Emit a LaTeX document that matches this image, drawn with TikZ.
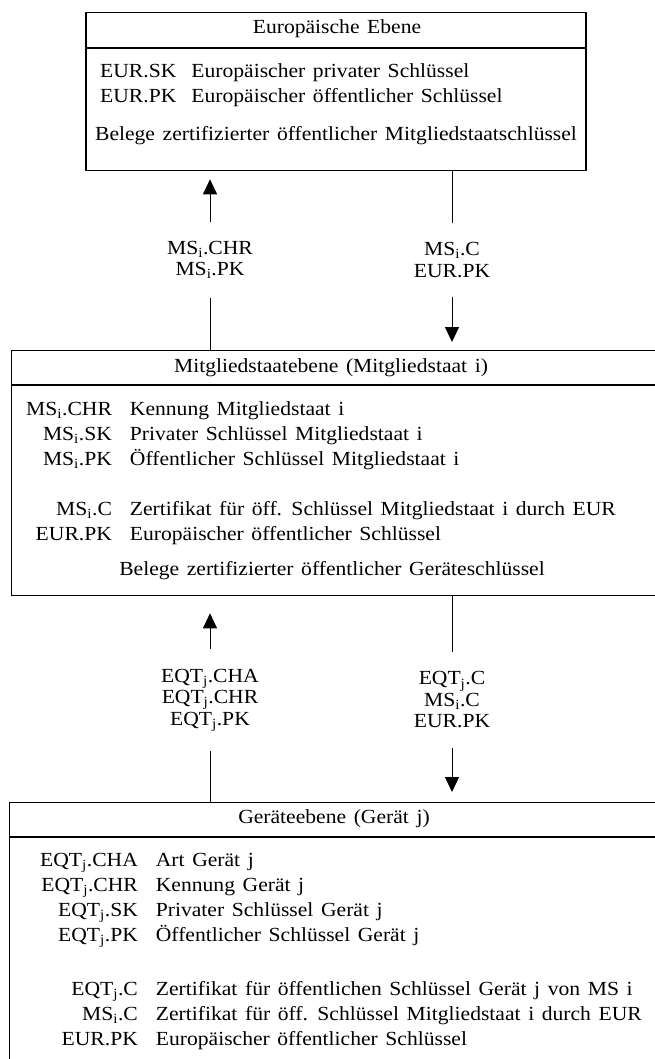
\documentclass[tikz,border=0pt]{standalone}
\usepackage{fontspec}
\setmainfont{Liberation Serif}[FakeStretch=1.08]
\usetikzlibrary{arrows.meta,positioning}
\newcommand\diafont{\fontsize{20}{25}\selectfont\spaceskip=.38em plus .1em\relax}
\newcommand\flowfont{\fontsize{20}{21.5}\selectfont}
\newcommand\sub[1]{\textsubscript{#1}}
\tikzset{
  box/.style={draw, line width=1.3pt, inner sep=0pt},
  keys/.style={inner sep=0pt, anchor=north west},
  flow/.style={align=center, inner xsep=2pt, inner ysep=19pt, font=\flowfont},
  arr/.style={line width=1pt, -{Triangle[length=15pt,width=14pt]}, shorten >=8pt},
  link/.style={line width=1pt}
}
\begin{document}
\begin{tikzpicture}[x=1pt, y=-1pt, font=\diafont]
  \useasboundingbox (0,0) rectangle (654,1059);
  % European level
  \node[box, minimum width=500pt, minimum height=158pt, anchor=north] (eur) at (336,12) {};
  \draw[box] ([yshift=-36pt]eur.north west) -- ([yshift=-36pt]eur.north east);
  \node (eurtitle) at (337,29) {Europäische Ebene};
  \node[keys] (eurkeys) at (100,60) {%
    \begin{tabular}{@{}l@{\hspace{15pt}}l@{}}
      EUR.SK & Europäischer privater Schlüssel\\
      EUR.PK & Europäischer öffentlicher Schlüssel
    \end{tabular}};
  \node (eurproof) at (336,136) {Belege zertifizierter öffentlicher Mitgliedstaatschlüssel};

  % member state level
  \node[box, minimum width=660pt, minimum height=245pt, anchor=north west] (ms) at (11,350) {};
  \draw[box] ([yshift=-35pt]ms.north west) -- ([yshift=-35pt]ms.north east);
  \node (mstitle) at (331,368) {Mitgliedstaatebene (Mitgliedstaat i)};
  \node[keys] (mskeys) at (26,398) {%
    \begin{tabular}{@{}r@{\hspace{18pt}}l@{}}
      MS\sub{i}.CHR & Kennung Mitgliedstaat i\\
      MS\sub{i}.SK & Privater Schlüssel Mitgliedstaat i\\
      MS\sub{i}.PK & Öffentlicher Schlüssel Mitgliedstaat i\\[25pt]
      MS\sub{i}.C & Zertifikat für öff. Schlüssel Mitgliedstaat i durch EUR\\
      EUR.PK & Europäischer öffentlicher Schlüssel
    \end{tabular}};
  \node (msproof) at (332,571) {Belege zertifizierter öffentlicher Geräteschlüssel};

  % equipment level
  \node[box, minimum width=660pt, minimum height=300pt, anchor=north west] (eqt) at (9,802) {};
  \draw[box] ([yshift=-35pt]eqt.north west) -- ([yshift=-35pt]eqt.north east);
  \node (eqttitle) at (334,819) {Geräteebene (Gerät j)};
  \node[keys] (eqtkeys) at (40,849) {%
    \begin{tabular}{@{}r@{\hspace{18pt}}l@{}}
      EQT\sub{j}.CHA & Art Gerät j\\
      EQT\sub{j}.CHR & Kennung Gerät j\\
      EQT\sub{j}.SK & Privater Schlüssel Gerät j\\
      EQT\sub{j}.PK & Öffentlicher Schlüssel Gerät j\\[29pt]
      EQT\sub{j}.C & Zertifikat für öffentlichen Schlüssel Gerät j von MS i\\
      MS\sub{i}.C & Zertifikat für öff. Schlüssel Mitgliedstaat i durch EUR\\
      EUR.PK & Europäischer öffentlicher Schlüssel
    \end{tabular}};

  % exchanges
  \node[flow] (msup) at (210,260) {MS\sub{i}.CHR\\MS\sub{i}.PK};
  \node[flow] (msdown) at (452,260) {MS\sub{i}.C\\EUR.PK};
  \draw[arr] (msup) -- (msup |- eur.south);
  \draw[link] (msup) -- (msup |- ms.north);
  \draw[link] (msdown |- eur.south) -- (msdown);
  \draw[arr] (msdown) -- (msdown |- ms.north);

  \node[flow, inner ysep=20pt] (equp) at (210,700) {EQT\sub{j}.CHA\\EQT\sub{j}.CHR\\EQT\sub{j}.PK};
  \node[flow, inner ysep=20pt] (eqdown) at (452,700) {EQT\sub{j}.C\\MS\sub{i}.C\\EUR.PK};
  \draw[arr, shorten >=17pt] (equp) -- (equp |- ms.south);
  \draw[link] (equp) -- (equp |- eqt.north);
  \draw[link] (eqdown |- ms.south) -- (eqdown);
  \draw[arr, shorten >=10pt] (eqdown) -- (eqdown |- eqt.north);
\end{tikzpicture}
\end{document}
